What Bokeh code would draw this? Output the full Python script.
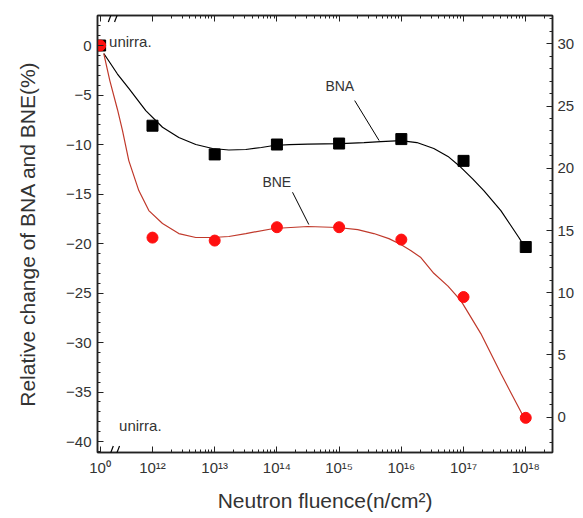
from bokeh.plotting import figure
from bokeh.models import (Range1d, LinearAxis, FixedTicker, SingleIntervalTicker,
                          Label, Arrow)
from bokeh.embed import file_html
from bokeh.resources import INLINE
import math

# ---------------- data ----------------
exponents = [0, 12, 13, 14, 15, 16, 17, 18]          # fluence = 10**e (0 -> unirradiated)
UNIRRA_POS = 11.158                                   # position of the "10^0" point left of the axis break
bna = [0.0, -8.1, -11.0, -10.0, -9.9, -9.45, -11.65, -20.35]
bne = [0.0, -19.4, -19.7, -18.35, -18.35, -19.6, -25.4, -37.6]

# smooth fit curves (log10 fluence, %)
bna_fit_x = [11.217, 11.314, 11.437, 11.619, 11.892, 12.161, 12.423, 12.696, 12.965, 13.227,
             13.5, 13.75, 13.95, 14.2, 14.497, 15.027, 15.4, 15.67, 15.992, 16.25, 16.522,
             16.75, 16.957, 17.15, 17.326, 17.6, 17.889, 17.97]
bna_fit_y = [-0.81, -1.72, -2.88, -4.34, -6.57, -8.25, -9.29, -10.0, -10.40, -10.55,
             -10.5, -10.3, -10.1, -10.0, -9.95, -9.9, -9.8, -9.7, -9.6, -9.8, -10.4,
             -11.2, -12.3, -13.5, -14.65, -16.67, -19.39, -20.2]
bne_fit_x = [11.217, 11.314, 11.437, 11.518, 11.619, 11.78, 11.941, 12.161, 12.423, 12.696,
             12.965, 13.227, 13.5, 13.95, 14.497, 14.979, 15.3, 15.558, 15.8, 15.992, 16.15,
             16.314, 16.522, 16.75, 16.957, 17.278, 17.6, 17.954]
bne_fit_y = [-0.81, -3.54, -6.46, -8.59, -11.62, -14.65, -16.67, -17.98, -18.99, -19.39,
             -19.39, -19.29, -18.99, -18.48, -18.28, -18.38, -18.6, -18.99, -19.5, -20.1, -20.7,
             -21.41, -23.0, -24.3, -25.76, -29.09, -33.13, -37.37]

tick_labels = ["10\u2070", "10\u00b9\u00b2", "10\u00b9\u00b3", "10\u00b9\u2074", "10\u00b9\u2075",
               "10\u00b9\u2076", "10\u00b9\u2077", "10\u00b9\u2078"]

x_pos = [UNIRRA_POS if e == 0 else e for e in exponents]

FONT = "Liberation Sans"
TXT = "#333333"

p = figure(width=583, height=518, x_range=Range1d(11.116, 18.43), y_range=Range1d(-41.1, 3.03),
           output_backend="svg", toolbar_location=None,
           min_border_left=97, min_border_right=31, min_border_top=15, min_border_bottom=66)
p.background_fill_color = "white"
p.border_fill_color = "white"
p.outline_line_color = "#222222"
p.outline_line_width = 1.5
p.xgrid.visible = False
p.ygrid.visible = False

minor = []
for d in range(12, 19):
    for k in range(2, 10):
        v = d + math.log10(k)
        if v < 18.43:
            minor.append(v)
xticker = FixedTicker(ticks=x_pos, minor_ticks=minor)


def style_axis(ax):
    ax.axis_line_color = "#222222"
    ax.axis_line_width = 1.5
    ax.major_tick_in = 6
    ax.major_tick_out = 0
    ax.minor_tick_in = 3
    ax.minor_tick_out = 0
    ax.major_tick_line_color = "#222222"
    ax.minor_tick_line_color = "#222222"
    ax.major_label_text_font = FONT
    ax.major_label_text_font_size = "15px"
    ax.major_label_text_color = TXT
    ax.axis_label_text_font = FONT
    ax.axis_label_text_font_style = "normal"
    ax.axis_label_text_color = TXT
    ax.axis_label_text_font_size = "21px"


xa = p.xaxis[0]
xa.ticker = xticker
xa.major_label_overrides = {xp: lab for xp, lab in zip(x_pos, tick_labels)}
xa.axis_label = "Neutron fluence(n/cm\u00b2)"
style_axis(xa)
xa.major_label_standoff = 6
xa.axis_label_standoff = 10

ya = p.yaxis[0]
ya.ticker = SingleIntervalTicker(interval=5, num_minor_ticks=5)
ya.axis_label = "Relative change of BNA and BNE(%)"
style_axis(ya)
ya.major_label_standoff = 6
ya.axis_label_standoff = 24

top = LinearAxis(ticker=xticker)
style_axis(top)
top.major_label_overrides = {xp: "" for xp in x_pos}
top.major_label_standoff = 0
p.add_layout(top, "above")

p.extra_y_ranges = {"right": Range1d(-2.84, 32.28)}
ra = LinearAxis(y_range_name="right", ticker=SingleIntervalTicker(interval=5, num_minor_ticks=5))
style_axis(ra)
ra.major_label_standoff = 5
p.add_layout(ra, "right")

# fit curves
p.line(bna_fit_x, bna_fit_y, line_color="black", line_width=1.2)
p.line(bne_fit_x, bne_fit_y, line_color="#c0392b", line_width=1.2)

# data points
p.scatter(x_pos, bna, marker="square", size=11, fill_color="black", line_color="black")
p.scatter(x_pos, bne, marker="circle", size=11, fill_color="#ff1010", line_color="#ff1010")

# annotation texts and pointers
p.add_layout(Label(x=15.011, y=-4.04, text="BNA", text_font=FONT, text_font_size="14px",
                   text_color=TXT, text_align="center", text_baseline="middle"))
p.add_layout(Label(x=13.998, y=-13.74, text="BNE", text_font=FONT, text_font_size="14px",
                   text_color=TXT, text_align="center", text_baseline="middle"))
p.segment(x0=[15.25, 14.251], y0=[-5.56, -14.82], x1=[15.643, 14.513], y1=[-9.6, -18.08],
          line_color="black", line_width=1)
p.add_layout(Label(x=11.302, y=0.4, text="unirra.", text_font=FONT, text_font_size="15px",
                   text_color=TXT, text_baseline="middle"))
p.add_layout(Label(x=11.463, y=-38.4, text="unirra.", text_font=FONT, text_font_size="15px",
                   text_color=TXT, text_baseline="middle"))

# axis break marks
for xs in (11.29, 11.39):
    p.add_layout(Arrow(start=None, end=None, x_start=xs, y_start=-41.75, x_end=xs + 0.08,
                       y_end=-40.45, line_color="black", line_width=1.2))
    p.add_layout(Arrow(start=None, end=None, x_start=xs, y_start=2.38, x_end=xs + 0.08,
                       y_end=3.68, line_color="black", line_width=1.2))

open("out.html", "w").write(file_html(p, INLINE))
